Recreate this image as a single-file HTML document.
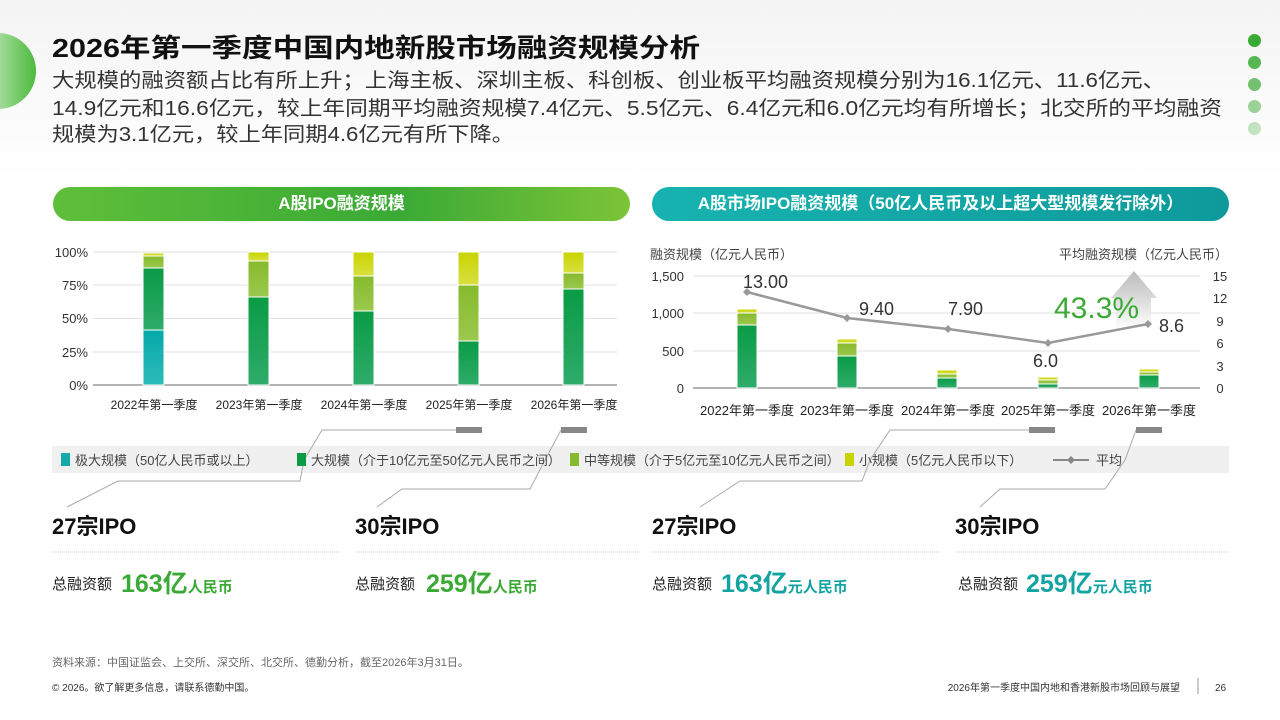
<!DOCTYPE html>
<html><head><meta charset="utf-8"><style>
*{margin:0;padding:0;box-sizing:border-box}
body{width:1280px;height:720px;overflow:hidden;background:#fff;position:relative;font-family:"Liberation Sans","Noto Sans CJK SC",sans-serif;color:#222}
.a{position:absolute;white-space:nowrap}
</style></head><body>
<div class="a" style="left:0;top:0;width:1280px;height:180px;background:linear-gradient(180deg,#f4f4f4,#fff)"></div>
<div class="a" style="left:-40px;top:33px;width:76px;height:76px;border-radius:50%;background:linear-gradient(90deg,#fff,#4cba3c)"></div>
<div class="a" style="left:1248px;top:34px;width:13px;height:13px;border-radius:50%;background:#3aaa35"></div>
<div class="a" style="left:1248px;top:56px;width:13px;height:13px;border-radius:50%;background:#3aaa35;opacity:.85"></div>
<div class="a" style="left:1248px;top:78px;width:13px;height:13px;border-radius:50%;background:#3aaa35;opacity:.7"></div>
<div class="a" style="left:1248px;top:100px;width:13px;height:13px;border-radius:50%;background:#3aaa35;opacity:.5"></div>
<div class="a" style="left:1248px;top:122px;width:13px;height:13px;border-radius:50%;background:#3aaa35;opacity:.3"></div>
<div class="a" style="left:53px;top:187px;width:577px;height:34px;border-radius:17px;background:linear-gradient(90deg,#5fbf3a,#3aaa35 60%,#7cc437);color:#fff;font-size:17px;font-weight:bold;text-align:center;line-height:34px">A股IPO融资规模</div>
<div class="a" style="left:652px;top:187px;width:577px;height:34px;border-radius:17px;background:linear-gradient(90deg,#17b3b0,#0e9a9a);color:#fff;font-size:17px;font-weight:bold;text-align:center;line-height:34px">A股市场IPO融资规模（50亿人民币及以上超大型规模发行除外）</div>

<svg class="a" style="left:0;top:0" width="1280" height="720" font-family="Liberation Sans,Noto Sans CJK SC,sans-serif">
<defs>
<linearGradient id="g1" x1="0" y1="0" x2="0" y2="1"><stop offset="0" stop-color="#0a9b45"/><stop offset="1" stop-color="#2eac6a"/></linearGradient>
<linearGradient id="g2" x1="0" y1="0" x2="0" y2="1"><stop offset="0" stop-color="#87ba2c"/><stop offset="1" stop-color="#9bc84e"/></linearGradient>
<linearGradient id="g3" x1="0" y1="0" x2="0" y2="1"><stop offset="0" stop-color="#c8d400"/><stop offset="1" stop-color="#d8e040"/></linearGradient>
<linearGradient id="g0" x1="0" y1="0" x2="0" y2="1"><stop offset="0" stop-color="#04a9a9"/><stop offset="1" stop-color="#2dbbb9"/></linearGradient>
<linearGradient id="ar" x1="0" y1="0" x2="0" y2="1"><stop offset="0" stop-color="#bbb"/><stop offset="1" stop-color="#fff"/></linearGradient>
</defs>
<text x="52" y="57" font-size="26" font-weight="bold" fill="#111" textLength="648" lengthAdjust="spacingAndGlyphs">2026年第一季度中国内地新股市场融资规模分析</text>
<g font-size="20" fill="#333">
<text x="52" y="87" textLength="1113" lengthAdjust="spacingAndGlyphs">大规模的融资额占比有所上升；上海主板、深圳主板、科创板、创业板平均融资规模分别为16.1亿元、11.6亿元、</text>
<text x="52" y="115" textLength="1170" lengthAdjust="spacingAndGlyphs">14.9亿元和16.6亿元，较上年同期平均融资规模7.4亿元、5.5亿元、6.4亿元和6.0亿元均有所增长；北交所的平均融资</text>
<text x="52" y="141" textLength="462" lengthAdjust="spacingAndGlyphs">规模为3.1亿元，较上年同期4.6亿元有所下降。</text>
</g>
<g stroke="#e2e2e2"><line x1="93" x2="617" y1="252" y2="252"/><line x1="93" x2="617" y1="285" y2="285"/><line x1="93" x2="617" y1="318.5" y2="318.5"/><line x1="93" x2="617" y1="352" y2="352"/></g>
<line x1="93" x2="617" y1="385" y2="385" stroke="#999" stroke-width="1.5"/>
<g font-size="13" fill="#333" text-anchor="end"><text x="88" y="257">100%</text><text x="88" y="290">75%</text><text x="88" y="323">50%</text><text x="88" y="357">25%</text><text x="88" y="390">0%</text></g>
<g stroke="#fff" stroke-width="1">
<rect x="143" y="330" width="21" height="55" fill="url(#g0)"/><rect x="143" y="268" width="21" height="62" fill="url(#g1)"/><rect x="143" y="256" width="21" height="12" fill="url(#g2)"/><rect x="143" y="253" width="21" height="3" fill="url(#g3)"/>
<rect x="248" y="297" width="21" height="88" fill="url(#g1)"/><rect x="248" y="261" width="21" height="36" fill="url(#g2)"/><rect x="248" y="252" width="21" height="9" fill="url(#g3)"/>
<rect x="353" y="311" width="21" height="74" fill="url(#g1)"/><rect x="353" y="276" width="21" height="35" fill="url(#g2)"/><rect x="353" y="252" width="21" height="24" fill="url(#g3)"/>
<rect x="458" y="341" width="21" height="44" fill="url(#g1)"/><rect x="458" y="285" width="21" height="56" fill="url(#g2)"/><rect x="458" y="252" width="21" height="33" fill="url(#g3)"/>
<rect x="563" y="289" width="21" height="96" fill="url(#g1)"/><rect x="563" y="273" width="21" height="16" fill="url(#g2)"/><rect x="563" y="252" width="21" height="21" fill="url(#g3)"/>
</g>
<g font-size="12" fill="#222" text-anchor="middle"><text x="154" y="409">2022年第一季度</text><text x="259" y="409">2023年第一季度</text><text x="364" y="409">2024年第一季度</text><text x="469" y="409">2025年第一季度</text><text x="574" y="409">2026年第一季度</text></g>

<text x="650" y="259" font-size="13" fill="#444">融资规模（亿元人民币）</text>
<text x="1228" y="259" font-size="13" fill="#444" text-anchor="end">平均融资规模（亿元人民币）</text>
<g stroke="#e2e2e2"><line x1="693" x2="1200" y1="276" y2="276"/><line x1="693" x2="1200" y1="313" y2="313"/><line x1="693" x2="1200" y1="351" y2="351"/></g>
<line x1="693" x2="1200" y1="388" y2="388" stroke="#999" stroke-width="1.5"/>
<g font-size="13" fill="#333" text-anchor="end"><text x="684" y="281">1,500</text><text x="684" y="318">1,000</text><text x="684" y="356">500</text><text x="684" y="393">0</text></g>
<g font-size="13" fill="#333" text-anchor="middle"><text x="1220" y="281">15</text><text x="1220" y="303">12</text><text x="1220" y="326">9</text><text x="1220" y="348">6</text><text x="1220" y="371">3</text><text x="1220" y="393">0</text></g>
<g stroke="#fff" stroke-width="1">
<rect x="737" y="325" width="20" height="63" fill="url(#g1)"/><rect x="737" y="313" width="20" height="12" fill="url(#g2)"/><rect x="737" y="309" width="20" height="4" fill="url(#g3)"/>
<rect x="837" y="356" width="20" height="32" fill="url(#g1)"/><rect x="837" y="343" width="20" height="13" fill="url(#g2)"/><rect x="837" y="339" width="20" height="4" fill="url(#g3)"/>
<rect x="937" y="378" width="20" height="10" fill="url(#g1)"/><rect x="937" y="374" width="20" height="4" fill="url(#g2)"/><rect x="937" y="370" width="20" height="4" fill="url(#g3)"/>
<rect x="1038" y="384" width="20" height="4" fill="url(#g1)"/><rect x="1038" y="380" width="20" height="4" fill="url(#g2)"/><rect x="1038" y="377" width="20" height="3" fill="url(#g3)"/>
<rect x="1139" y="375" width="20" height="13" fill="url(#g1)"/><rect x="1139" y="372" width="20" height="3" fill="url(#g2)"/><rect x="1139" y="369" width="20" height="3" fill="url(#g3)"/>
</g>
<polygon points="1116,330 1116,298 1111,298 1134,271 1157,298 1151,298 1151,330" fill="url(#ar)"/>
<polyline points="747,292 847,318 948,329 1048,343 1148,324" fill="none" stroke="#999" stroke-width="2.5"/>
<g fill="#999"><path d="M747,288 751,292 747,296 743,292z"/><path d="M847,314 851,318 847,322 843,318z"/><path d="M948,325 952,329 948,333 944,329z"/><path d="M1048,339 1052,343 1048,347 1044,343z"/><path d="M1148,320 1152,324 1148,328 1144,324z"/></g>
<g font-size="18" fill="#333"><text x="743" y="288">13.00</text><text x="859" y="315">9.40</text><text x="948" y="315">7.90</text><text x="1033" y="367">6.0</text><text x="1159" y="332">8.6</text></g>
<text x="1054" y="318" font-size="30" fill="#3aaa35">43.3%</text>
<g font-size="13" fill="#222" text-anchor="middle"><text x="747" y="415">2022年第一季度</text><text x="847" y="415">2023年第一季度</text><text x="948" y="415">2024年第一季度</text><text x="1048" y="415">2025年第一季度</text><text x="1149" y="415">2026年第一季度</text></g>

<rect x="52" y="446" width="1177" height="27" fill="#f0f0f0"/>
<g fill="#888"><rect x="456" y="427" width="26" height="6"/><rect x="561" y="427" width="26" height="6"/><rect x="1029" y="427" width="26" height="6"/><rect x="1136" y="427" width="26" height="6"/></g>
<g fill="none" stroke="#aaa" stroke-width="1">
<polyline points="456,430 322,430 304,460 300,481 118,481 67,507"/>
<polyline points="561,430 545,460 530,489 402,489 377,507"/>
<polyline points="1029,430 890,430 870,460 862,481 740,481 700,507"/>
<polyline points="1136,430 1125,460 1105,489 1000,489 980,507"/>
</g>
<rect x="61" y="453" width="9" height="13" fill="#14aaa8"/><rect x="297" y="453" width="9" height="13" fill="#0a9b45"/><rect x="570" y="453" width="9" height="13" fill="#87ba2c"/><rect x="845" y="453" width="9" height="13" fill="#c8d400"/>
<line x1="1053" x2="1089" y1="460" y2="460" stroke="#888" stroke-width="2"/><path d="M1071,456 1075,460 1071,464 1067,460z" fill="#888"/>
<g font-size="13" fill="#444"><text x="75" y="465">极大规模（50亿人民币或以上）</text><text x="311" y="465">大规模（介于10亿元至50亿元人民币之间）</text><text x="584" y="465">中等规模（介于5亿元至10亿元人民币之间）</text><text x="859" y="465">小规模（5亿元人民币以下）</text><text x="1096" y="465">平均</text></g>
<g stroke="#ccc" stroke-dasharray="1 1"><line x1="52" x2="340" y1="552" y2="552"/><line x1="355" x2="640" y1="552" y2="552"/><line x1="652" x2="940" y1="552" y2="552"/><line x1="955" x2="1228" y1="552" y2="552"/></g>
<g font-size="22" font-weight="bold" fill="#111"><text x="52" y="534">27宗IPO</text><text x="355" y="534">30宗IPO</text><text x="652" y="534">27宗IPO</text><text x="955" y="534">30宗IPO</text></g>
<g font-size="15" fill="#222"><text x="52" y="589">总融资额</text><text x="355" y="589">总融资额</text><text x="652" y="589">总融资额</text><text x="958" y="589">总融资额</text></g>
<g font-weight="bold"><text x="121" y="592" font-size="25" fill="#3aaa35">163亿<tspan font-size="15">人民币</tspan></text>
<text x="426" y="592" font-size="25" fill="#3aaa35">259亿<tspan font-size="15">人民币</tspan></text>
<text x="721" y="592" font-size="25" fill="#13a3a0">163亿<tspan font-size="15">元人民币</tspan></text>
<text x="1026" y="592" font-size="25" fill="#13a3a0">259亿<tspan font-size="15">元人民币</tspan></text></g>
<text x="52" y="666" font-size="11" fill="#666">资料来源：中国证监会、上交所、深交所、北交所、德勤分析，截至2026年3月31日。</text>
<text x="52" y="691" font-size="10" fill="#333">© 2026。欲了解更多信息，请联系德勤中国。</text>
<text x="1180" y="691" font-size="10" fill="#333" text-anchor="end">2026年第一季度中国内地和香港新股市场回顾与展望</text>
<line x1="1198" x2="1198" y1="678" y2="694" stroke="#999"/>
<text x="1215" y="691" font-size="10" fill="#333">26</text>
</svg>
</body></html>
